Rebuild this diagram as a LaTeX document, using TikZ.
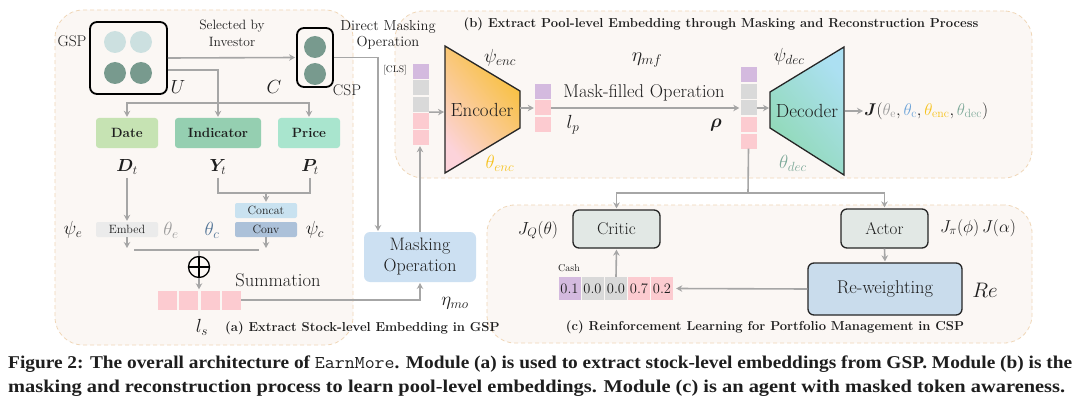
\RequirePackage{fix-cm}
\documentclass[tikz,border=0pt]{standalone}
\usepackage{amsmath,bm}
\usepackage{fontspec}
\newfontfamily\capfont{Liberation Serif}
\usetikzlibrary{arrows.meta,calc}
\definecolor{panelfill}{HTML}{FBF7F4}
\definecolor{paneledge}{HTML}{F0D7B8}
\definecolor{arrowgray}{HTML}{A6A6A6}
\definecolor{tokpurple}{HTML}{D4BADF}
\definecolor{tokgray}{HTML}{D9D9D9}
\definecolor{tokpink}{HTML}{FCCBD0}
\definecolor{circlight}{HTML}{CCE0E0}
\definecolor{circdark}{HTML}{789A8E}
\definecolor{datefill}{HTML}{C6E3B3}
\definecolor{indfill}{HTML}{95CFB1}
\definecolor{pricefill}{HTML}{A9E5CE}
\definecolor{embedfill}{HTML}{EBEBEB}
\definecolor{concatfill}{HTML}{C9E2F0}
\definecolor{convfill}{HTML}{ACC1D9}
\definecolor{maskfill}{HTML}{CCE0F2}
\definecolor{actfill}{HTML}{E2E8E5}
\definecolor{rwfill}{HTML}{C9DCEC}
\definecolor{thetae}{HTML}{9A9A9A}
\definecolor{thetac}{HTML}{4F7295}
\definecolor{thetacb}{HTML}{6AA2D8}
\definecolor{thetaenc}{HTML}{F6C21C}
\definecolor{thetadec}{HTML}{7DA999}
\definecolor{encA}{HTML}{F8BF35}
\definecolor{encB}{HTML}{FCD3DA}
\definecolor{decA}{HTML}{ACE0F2}
\definecolor{decB}{HTML}{8FD9B3}
\definecolor{txt}{HTML}{1E1E1E}
\newcommand{\fsz}[2]{\fontsize{#1}{#2}\selectfont}
\tikzset{
  panel/.style={draw=paneledge, fill=panelfill, dash pattern=on 4pt off 3pt, rounded corners=28pt, line width=0.8pt, inner sep=0},
  arr/.style={draw=arrowgray, line width=1.6pt, -{Stealth[length=6pt,width=6.5pt]}, shorten >=1pt},
  ln/.style={draw=arrowgray, line width=1.6pt},
  tok/.style={minimum width=16pt, minimum height=15pt, inner sep=0},
  cel/.style={minimum width=19pt, minimum height=19pt, inner sep=0, fill=tokpink},
  wt/.style={minimum width=22pt, minimum height=23pt, inner sep=0, font=\fsz{14.5}{16}, text=txt},
  feat/.style={rounded corners=3pt, minimum height=30pt, inner sep=0, font=\fsz{13.4}{15}\bfseries, text=txt},
  small/.style={rounded corners=2pt, minimum width=62pt, minimum height=15pt, inner sep=0, font=\fsz{12}{13}, text=txt},
  blk/.style={draw=black!85, line width=1.3pt, rounded corners=6pt, inner sep=0, font=\fsz{17}{20}, text=txt},
  lab/.style={font=\fsz{19}{22}, text=txt, inner sep=0},
  ttl/.style={font=\fsz{13}{15}\bfseries, text=txt, inner sep=0},
  pool/.style={draw=black, line width=1.8pt, rounded corners=7pt, inner sep=0}
}
\begin{document}
\begin{tikzpicture}[x=1pt,y=-1pt]
\useasboundingbox (0,0) rectangle (1080,404);
\fill[white] (0,0) rectangle (1080,404);

% panels
\node[panel, minimum width=298pt, minimum height=335pt] (pa) at (204,177.5) {};
\node[panel, minimum width=637pt, minimum height=167pt] (pb) at (713.5,94.5) {};
\node[panel, minimum width=545pt, minimum height=138pt] (pc) at (759.5,274) {};

% ---------------- panel (a)
\node[pool, minimum width=77pt, minimum height=72pt] (gsp) at (128.5,58) {};
\fill[circlight] (115,42) circle (11);
\fill[circlight] (141,42) circle (11);
\fill[circdark] (115,73) circle (11);
\fill[circdark] (141,73) circle (11);
\node[pool, minimum width=36pt, minimum height=59pt] (csp) at (315,57.5) {};
\fill[circdark] (315,47) circle (11);
\fill[circdark] (315,74) circle (11);
\node[font=\fsz{15.5}{17}, text=txt] (gsplab) at (72,41) {GSP};
\node[font=\fsz{15.5}{17}, text=txt] (csplab) at (347,90) {CSP};
\node[lab] (ulab) at (178,87) {$U$};
\node[lab] (clab) at (274,87) {$C$};
\node[font=\fsz{13.5}{17}, text=txt, align=center] (sel) at (232,33) {Selected by\\Investor};
\node[font=\fsz{14.5}{16.5}, text=txt, align=center] (dmo) at (388,35) {Direct Masking\\Operation};

\draw[arr] (gsp.east) -- (csp.west);

\node[feat, fill=datefill, minimum width=62pt] (date) at (127,133) {Date};
\node[feat, fill=indfill, minimum width=86pt] (ind) at (218,133) {Indicator};
\node[feat, fill=pricefill, minimum width=62pt] (price) at (309,133) {Price};

\draw[arr] ($(gsp.east)+(0,12)$) -| (ind.north);
\coordinate (brm) at (218,103);
\draw[{Stealth[length=6pt,width=6.5pt]}-{Stealth[length=6pt,width=6.5pt]}, draw=arrowgray, line width=1.6pt, shorten <=1pt, shorten >=1pt] (date.north) |- (brm) -| (price.north);

\node[lab, font=\fsz{17.5}{20}] (dt) at (127,167) {$\bm{D}_t$};
\node[lab, font=\fsz{17.5}{20}] (yt) at (218,167) {$\bm{Y}_t$};
\node[lab, font=\fsz{17.5}{20}] (pt) at (310,167) {$\bm{P}_t$};

\node[small, fill=embedfill] (embed) at (127,229.5) {Embed};
\node[small, fill=concatfill] (concat) at (266,210.5) {Concat};
\node[small, fill=convfill] (conv) at (266,229.5) {Conv};

\draw[arr] ($(dt.south)+(0,3)$) -- (embed.north);
\coordinate (jn) at (266,193);
\draw[ln] ($(yt.south)+(0,3)$) -- (yt.south |- jn) -- (pt.south |- jn) -- ($(pt.south)+(0,3)$);
\draw[arr] (jn) -- (concat.north);

\node[lab] (psie) at (73,230) {$\psi_e$};
\node[lab, text=thetae] (thetaE) at (171,230) {$\theta_e$};
\node[lab, text=thetac] (thetaC) at (212,230) {$\theta_c$};
\node[lab] (psic) at (315,230) {$\psi_c$};

\coordinate (e1) at (127,249);
\coordinate (c1) at (266,249);
\draw[arr] (embed.south) -- (e1);
\draw[arr] (conv.south) -- (c1);
\coordinate (sl) at (134,250);
\coordinate (sr) at (259,250);
\coordinate (sm) at (199,250);
\draw[ln] (sl) -- (sr);
\node[circle, draw=black, line width=1.3pt, minimum size=21pt, inner sep=0,
  path picture={\draw[black, line width=1.3pt] (path picture bounding box.north) -- (path picture bounding box.south) (path picture bounding box.west) -- (path picture bounding box.east);}] (oplus) at (199,267) {};
\draw[ln] (sm) -- (oplus.north);
\node[font=\fsz{18.5}{20}, text=txt] (summ) at (278,280) {Summation};

\node[cel] (ls1) at (167,300) {};
\node[cel] (ls2) at (188.5,300) {};
\node[cel] (ls3) at (210,300) {};
\node[cel] (ls4) at (231.5,300) {};
\draw[arr] (oplus.south) -- (oplus.south |- ls3.north);
\node[lab] (lslab) at (202,327) {$l_s$};
\node[ttl, anchor=west] (ta) at (225,328) {(a) Extract Stock-level Embedding in GSP};

% masking operation
\node[rounded corners=6pt, fill=maskfill, minimum width=112pt, minimum height=50pt, inner sep=0, font=\fsz{18}{21}, text=txt, align=center] (mask) at (420,257) {Masking\\Operation};
\coordinate (mtop) at (378,232);
\draw[arr] (csp.east) -| (mtop);
\coordinate (mbot) at (420,282);
\draw[arr] (ls4.east) -| (mbot);
\node[lab] (etamo) at (455,303) {$\eta_{mo}$};

% ---------------- panel (b)
\node[ttl] (tb) at (721,24) {(b) Extract Pool-level Embedding through Masking and Reconstruction Process};
\node[tok, fill=tokpurple] (lc1) at (421,71.5) {};
\node[tok, fill=tokgray] (lc2) at (421,88) {};
\node[tok, fill=tokgray] (lc3) at (421,104.5) {};
\node[tok, fill=tokpink] (lc4) at (421,121) {};
\node[tok, fill=tokpink] (lc5) at (421,137.5) {};
\node[font=\fsz{9.5}{10}, text=txt] (cls) at (395,70) {[CLS]};
\draw[arr] (mask.north) -- (mask.north |- lc5.south);

\path[draw=black!85, line width=1.3pt, top color=encA, bottom color=encB, shading angle=-50]
  (445,46) -- (520,91) -- (520,128) -- (445,173) -- cycle;
\coordinate (encL) at (445,112);
\coordinate (encR) at (520,108);
\node[font=\fsz{19}{20}, text=txt] (enc) at (482,110) {Encoder};
\draw[arr] (lc3.south east) -- (encL);
\node[lab] (psienc) at (500,58) {$\psi_{enc}$};
\node[lab, text=thetaenc] (thetaenc) at (500,163) {$\theta_{enc}$};

\node[tok, fill=tokpurple] (lp1) at (543,91.5) {};
\node[tok, fill=tokpink] (lp2) at (543,108) {};
\node[tok, fill=tokpink] (lp3) at (543,124.5) {};
\draw[arr] (encR) -- (lp2.west);
\node[lab] (lplab) at (573,125) {$l_p$};
\node[lab, font=\fsz{20}{22}] (etamf) at (647,60) {$\eta_{mf}$};
\node[font=\fsz{18.5}{20}, text=txt] (mfo) at (644,93) {Mask-filled Operation};

\node[tok, fill=tokpurple] (r1) at (748.5,75) {};
\node[tok, fill=tokgray] (r2) at (748.5,91.5) {};
\node[tok, fill=tokgray] (r3) at (748.5,108) {};
\node[tok, fill=tokpink] (r4) at (748.5,124.5) {};
\node[tok, fill=tokpink] (r5) at (748.5,141) {};
\draw[arr] (lp2.east) -- (r3.west);
\node[lab] (rho) at (716,125) {$\bm{\rho}$};

\path[draw=black!85, line width=1.3pt, top color=decA, bottom color=decB, shading angle=-50]
  (770,92) -- (844,47) -- (844,175) -- (770,128) -- cycle;
\coordinate (decL) at (770,110);
\coordinate (decR) at (845,111);
\node[font=\fsz{19}{20}, text=txt] (dec) at (807,111) {Decoder};
\draw[arr] (r3.east) -- (r3.east -| decL);
\node[lab] (psidec) at (789,57) {$\psi_{dec}$};
\node[lab, text=thetadec] (thetadec) at (793,163) {$\theta_{dec}$};
\node[lab, anchor=west, font=\fsz{17}{20}] (jall) at (864,111) {$\bm{J}(\textcolor{thetae}{\theta_{\mathrm{e}}},\textcolor{thetacb}{\theta_{\mathrm{c}}},\textcolor{thetaenc}{\theta_{\mathrm{enc}}},\textcolor{thetadec}{\theta_{\mathrm{dec}}})$};
\draw[arr] (decR) -- (jall.west);

% ---------------- panel (c)
\node[ttl] (tc) at (765,327) {(c) Reinforcement Learning for Portfolio Management in CSP};
\node[blk, fill=actfill, minimum width=87pt, minimum height=38pt] (critic) at (616.5,229) {Critic};
\node[blk, fill=actfill, minimum width=87pt, minimum height=39pt] (actor) at (884.5,228.5) {Actor};
\node[blk, fill=rwfill, minimum width=154pt, minimum height=52pt, font=\fsz{18.5}{20}] (rw) at (885,289) {Re-weighting};
\node[lab, font=\fsz{17.5}{20}] (jq) at (538,230) {$J_Q(\theta)$};
\node[lab, font=\fsz{17.2}{20}] (jpi) at (978,228) {$J_\pi(\phi)\,J(\alpha)$};
\node[lab, font=\fsz{21}{22}] (re) at (985,290) {$Re$};

\coordinate (jc) at (748,193);
\draw[ln] (r5.south) -- (jc);
\draw[arr] (jc) -| (critic.north);
\draw[arr] (jc) -| (actor.north);
\draw[arr] (actor.south) -- (rw.north);

\node[wt, fill=tokpurple] (w1) at (569.5,288.5) {0.1};
\node[wt, fill=tokgray] (w2) at (592.5,288.5) {0.0};
\node[wt, fill=tokgray] (w3) at (616,288.5) {0.0};
\node[wt, fill=tokpink] (w4) at (639,288.5) {0.7};
\node[wt, fill=tokpink] (w5) at (662,288.5) {0.2};
\node[font=\fsz{10}{11}, text=txt] (cash) at (569,268) {Cash};
\draw[arr] (w3.north) -- (critic.south);
\draw[arr] (rw.west) -- ($(w5.east)+(2,0)$);

% caption
\node[anchor=base west, inner sep=0, text=txt] (cap1) at (8,368) {\resizebox{1064pt}{\height}{\capfont\fsz{18}{20}\bfseries Figure 2: The overall architecture of {\mdseries\ttfamily EarnMore}. Module (a) is used to extract stock-level embeddings from GSP. Module (b) is the}};
\node[anchor=base west, inner sep=0, text=txt] (cap2) at (8,392) {\resizebox{1057pt}{\height}{\capfont\fsz{18}{20}\bfseries masking and reconstruction process to learn pool-level embeddings. Module (c) is an agent with masked token awareness.}};
\end{tikzpicture}
\end{document}
